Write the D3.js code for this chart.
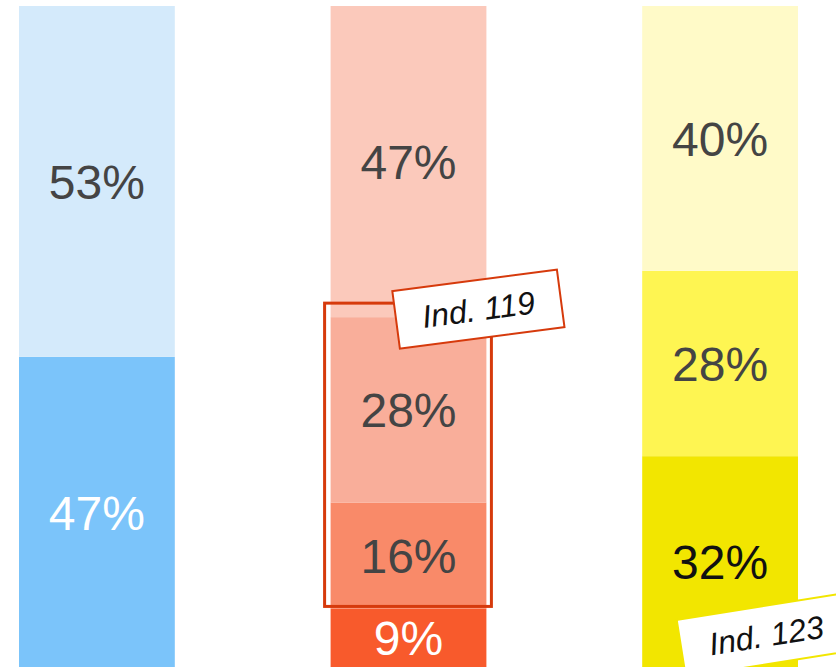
<html>
<head>
    <script src="https://d3js.org/d3.v7.min.js"></script>
    <style>
        body { margin: 0; background: #fff; }
        text { font-family: "Liberation Sans", Arial, sans-serif; }
    </style>
</head>
<body>
    <div id="myPlot"></div>
    <script>
        // data
        var groups = ["A", "B", "C"];
        var shares = [
            [47, 53],
            [9, 16, 28, 47],
            [32, 28, 40]
        ];
        var fills = [
            ["#7bc4fa", "#d4eafb"],
            ["#f85a2c", "#f98a69", "#f9ae9a", "#fbc9bb"],
            ["#f2e600", "#fef552", "#fffac8"]
        ];
        var textColors = [
            ["#ffffff", "#444444"],
            ["#ffffff", "#444444", "#444444", "#444444"],
            ["#111111", "#444444", "#444444"]
        ];
        var notes = [
            { label: "Ind. 119", group: 1, from: 9, to: 53, color: "#d63a0c" },
            { label: "Ind. 123", group: 2, from: 0, to: 0, color: "#f2e600" }
        ];

        var width = 836, height = 667;
        var svg = d3.select("#myPlot").append("svg")
            .attr("width", width)
            .attr("height", height);

        var x = d3.scaleBand()
            .domain(groups)
            .range([19, 798])
            .paddingInner(0.5)
            .paddingOuter(0);

        var y = d3.scaleLinear()
            .domain([0, 100])
            .range([668, 6]);

        // stack each column
        groups.forEach(function (g, gi) {
            var acc = 0;
            var segs = shares[gi].map(function (v, i) {
                var s = { v: v, y0: acc, y1: acc + v, fill: fills[gi][i], tc: textColors[gi][i] };
                acc += v;
                return s;
            });

            var col = svg.append("g");
            col.selectAll("rect")
                .data(segs)
                .enter()
                .append("rect")
                .attr("x", x(g))
                .attr("width", x.bandwidth())
                .attr("y", function (d) { return y(d.y1); })
                .attr("height", function (d) { return y(d.y0) - y(d.y1); })
                .attr("fill", function (d) { return d.fill; });

            col.selectAll("text")
                .data(segs)
                .enter()
                .append("text")
                .attr("x", x(g) + x.bandwidth() / 2)
                .attr("y", function (d) { return (y(d.y0) + y(d.y1)) / 2; })
                .attr("dy", "0.36em")
                .attr("text-anchor", "middle")
                .style("font-size", "48px")
                .style("fill", function (d) { return d.tc; })
                .text(function (d) { return d.v + "%"; });
        });

        // highlight box on the middle column
        var n0 = notes[0];
        svg.append("rect")
            .attr("x", x(groups[n0.group]) - 6)
            .attr("y", y(n0.to) - 14)
            .attr("width", x.bandwidth() + 11)
            .attr("height", y(n0.from) - y(n0.to) + 12)
            .attr("fill", "none")
            .attr("stroke", n0.color)
            .attr("stroke-width", 3);

        // tilted labels
        function tag(note, cx, cy, angle, w, h) {
            var t = svg.append("g")
                .attr("transform", "translate(" + cx + "," + cy + ") rotate(" + angle + ")");
            t.append("rect")
                .attr("x", -w / 2)
                .attr("y", -h / 2)
                .attr("width", w)
                .attr("height", h)
                .attr("fill", "#fff")
                .attr("stroke", note.color)
                .attr("stroke-width", 2);
            t.append("text")
                .attr("text-anchor", "middle")
                .attr("dy", "0.36em")
                .style("font-size", "32px")
                .style("font-style", "italic")
                .style("fill", "#111")
                .text(note.label);
        }
        tag(notes[0], x(groups[1]) + x.bandwidth() - 8, y(53) - 8, -7.5, 166, 58);
        tag(notes[1], x(groups[2]) + 124, y(0) - 33, -9, 172, 58);
    </script>
</body>
</html>
